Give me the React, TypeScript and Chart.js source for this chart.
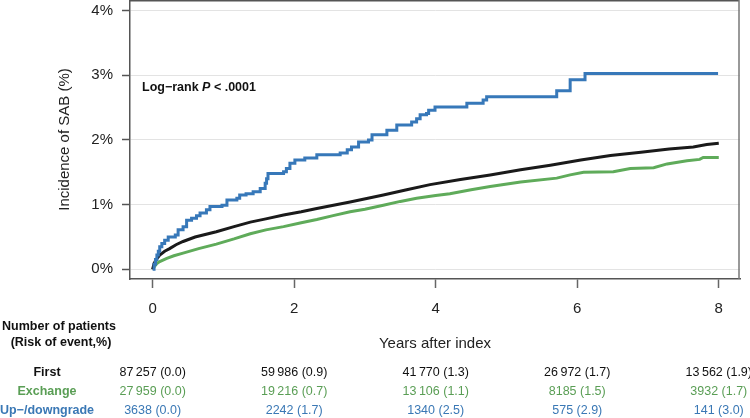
import React, { useEffect, useRef } from 'react';
import { Chart, registerables } from 'chart.js';

Chart.register(...registerables);

// ---- data ----
const xTicks = [0, 2, 4, 6, 8];
const yTicks = [0, 1, 2, 3, 4];
const timePoints = [0, 2, 4, 6, 8];

const firstT = [0, 0.02, 0.05, 0.1, 0.17, 0.24, 0.33, 0.43, 0.6, 0.9, 1.15, 1.38, 1.6, 1.85, 2.1, 2.32, 2.79, 3.26, 3.59, 3.92, 4.35, 4.77, 5.2, 5.62, 6.05, 6.47, 6.9, 7.3, 7.64, 7.83, 8.0];
const firstV = [0, 0.09, 0.15, 0.22, 0.28, 0.32, 0.38, 0.43, 0.5, 0.58, 0.66, 0.73, 0.78, 0.84, 0.89, 0.94, 1.04, 1.15, 1.23, 1.31, 1.39, 1.46, 1.54, 1.61, 1.69, 1.76, 1.81, 1.86, 1.89, 1.93, 1.95];

const exchT = [0, 0.03, 0.06, 0.1, 0.2, 0.3, 0.43, 0.65, 0.9, 1.15, 1.38, 1.6, 1.85, 2.1, 2.32, 2.55, 2.79, 3.0, 3.26, 3.5, 3.73, 4.0, 4.2, 4.5, 4.77, 5.2, 5.71, 5.9, 6.09, 6.51, 6.75, 7.08, 7.27, 7.55, 7.73, 7.78, 8.0];
const exchV = [0, 0.05, 0.09, 0.12, 0.17, 0.21, 0.25, 0.32, 0.39, 0.47, 0.55, 0.61, 0.66, 0.72, 0.77, 0.83, 0.89, 0.93, 0.99, 1.05, 1.1, 1.14, 1.17, 1.23, 1.28, 1.35, 1.41, 1.46, 1.5, 1.51, 1.56, 1.57, 1.63, 1.68, 1.7, 1.73, 1.73];

const updownT = [0, 0.02, 0.04, 0.06, 0.08, 0.1, 0.13, 0.17, 0.22, 0.32, 0.36, 0.43, 0.48, 0.55, 0.62, 0.67, 0.76, 0.81, 0.98, 1.05, 1.19, 1.23, 1.32, 1.42, 1.52, 1.59, 1.61, 1.63, 1.85, 1.89, 1.94, 2.01, 2.15, 2.32, 2.65, 2.75, 2.81, 2.91, 3.05, 3.1, 3.31, 3.45, 3.66, 3.73, 3.78, 3.87, 3.9, 3.99, 4.44, 4.67, 4.72, 5.71, 5.9, 6.11, 7.99];
const updownV = [0, 0.08, 0.15, 0.22, 0.28, 0.35, 0.4, 0.45, 0.5, 0.53, 0.61, 0.66, 0.76, 0.79, 0.83, 0.87, 0.92, 0.97, 0.99, 1.07, 1.1, 1.15, 1.17, 1.2, 1.25, 1.33, 1.4, 1.48, 1.51, 1.56, 1.64, 1.69, 1.72, 1.77, 1.8, 1.85, 1.89, 1.97, 2.0, 2.08, 2.15, 2.23, 2.28, 2.33, 2.39, 2.41, 2.46, 2.51, 2.57, 2.62, 2.67, 2.76, 2.93, 3.03, 3.03];

const firstN = [87257, 59986, 41770, 26972, 13562];
const firstRisk = [0.0, 0.9, 1.3, 1.7, 1.9];
const exchN = [27959, 19216, 13106, 8185, 3932];
const exchRisk = [0.0, 0.7, 1.1, 1.5, 1.7];
const updownN = [3638, 2242, 1340, 575, 141];
const updownRisk = [0.0, 1.7, 2.5, 2.9, 3.0];

const groupNames = ['First', 'Exchange', 'Up\u2212/downgrade'];

// ---- styles ----
const FONT = "'Liberation Sans', Arial, Helvetica, sans-serif";
const BLACK = '#1a1a1a';
const GREEN = '#5fab5a';
const BLUE = '#3778b9';
const GREEN_TXT = '#5a9e55';
const BLUE_TXT = '#3a78b5';
const AXIS = '#555555';

const pts = (t: number[], v: number[]) => t.map((x, i) => ({ x, y: v[i] }));

const fmtN = (n: number) => {
  if (n >= 10000) {
    const s = String(n);
    return s.slice(0, s.length - 3) + '\u2009' + s.slice(s.length - 3);
  }
  return String(n);
};

const overlayPlugin = {
  id: 'overlay',
  afterDraw(chart: any) {
    const ctx = chart.ctx;
    const xs = chart.scales.x;
    const ca = chart.chartArea;
    ctx.save();
    // frame: top and right sides
    ctx.strokeStyle = AXIS;
    ctx.lineWidth = 1.5;
    ctx.beginPath();
    ctx.moveTo(ca.left, ca.top + 0.75);
    ctx.lineTo(ca.right - 1, ca.top + 0.75);
    ctx.stroke();
    ctx.strokeStyle = '#777777';
    ctx.beginPath();
    ctx.moveTo(ca.right - 1, ca.top);
    ctx.lineTo(ca.right - 1, ca.bottom);
    ctx.stroke();

    // annotation
    ctx.textBaseline = 'middle';
    ctx.textAlign = 'left';
    ctx.fillStyle = '#111';
    let ax = ca.left + 12;
    const ay = 88;
    const parts: [string, string][] = [
      ['Log\u2212rank ', `bold 12.5px ${FONT}`],
      ['P', `italic bold 12.5px ${FONT}`],
      [' < .0001', `bold 12.5px ${FONT}`],
    ];
    for (const [txt, f] of parts) {
      ctx.font = f;
      ctx.fillText(txt, ax, ay);
      ax += ctx.measureText(txt).width;
    }

    // risk table
    ctx.textAlign = 'center';
    ctx.font = `bold 12.5px ${FONT}`;
    ctx.fillStyle = '#111';
    ctx.fillText('Number of patients', 59, 327);
    ctx.fillText('(Risk of event,%)', 61, 343);

    const rows = [
      { n: firstN, r: firstRisk, c: '#111', y: 373 },
      { n: exchN, r: exchRisk, c: GREEN_TXT, y: 392 },
      { n: updownN, r: updownRisk, c: BLUE_TXT, y: 411 },
    ];
    rows.forEach((row, ri) => {
      ctx.font = `bold 12.5px ${FONT}`;
      ctx.fillStyle = row.c;
      ctx.fillText(groupNames[ri], 47, row.y);
      ctx.font = `12.5px ${FONT}`;
      timePoints.forEach((t, i) => {
        const px = xs.getPixelForValue(t);
        ctx.fillText(`${fmtN(row.n[i])} (${row.r[i].toFixed(1)})`, px, row.y);
      });
    });
    ctx.restore();
  },
};

export default function App() {
  const ref = useRef<HTMLCanvasElement | null>(null);

  useEffect(() => {
    document.body.style.margin = '0';
    if (!ref.current) return;
    const chart = new Chart(ref.current, {
      type: 'line',
      data: {
        datasets: [
          {
            label: 'Up\u2212/downgrade',
            data: pts(updownT, updownV),
            borderColor: BLUE,
            borderWidth: 3,
            pointRadius: 0,
            stepped: true,
            fill: false,
          },
          {
            label: 'First',
            data: pts(firstT, firstV),
            borderColor: BLACK,
            borderWidth: 3,
            pointRadius: 0,
            tension: 0,
            fill: false,
          },
          {
            label: 'Exchange',
            data: pts(exchT, exchV),
            borderColor: GREEN,
            borderWidth: 3,
            pointRadius: 0,
            tension: 0,
            fill: false,
          },
        ],
      },
      options: {
        animation: false,
        responsive: false,
        devicePixelRatio: 1,
        layout: { padding: { left: 0, right: 10, top: 0, bottom: 0 } },
        plugins: {
          legend: { display: false },
          tooltip: { enabled: false },
        },
        scales: {
          x: {
            type: 'linear',
            min: -0.32,
            max: 8.3,
            afterBuildTicks: (s: any) => {
              s.ticks = xTicks.map((v) => ({ value: v }));
            },
            afterFit: (s: any) => {
              s.height = 139;
              s.paddingLeft = 0;
              s.paddingRight = 0;
            },
            ticks: {
              color: '#222',
              font: { family: FONT, size: 15 },
              padding: 12,
              maxRotation: 0,
              callback: (v: any) => String(v),
            },
            grid: {
              drawOnChartArea: false,
              drawTicks: true,
              tickLength: 9,
              tickColor: '#666',
              tickWidth: 1.5,
            },
            border: { display: true, color: AXIS, width: 1.5 },
            title: {
              display: true,
              text: 'Years after index',
              color: '#222',
              font: { family: FONT, size: 15 },
              padding: { top: 0, bottom: 65 },
            },
          },
          y: {
            type: 'linear',
            min: -0.15,
            max: 4.165,
            afterBuildTicks: (s: any) => {
              s.ticks = yTicks.map((v) => ({ value: v }));
            },
            afterFit: (s: any) => {
              s.width = 130;
              s.paddingTop = 0;
              s.paddingBottom = 0;
            },
            ticks: {
              color: '#222',
              font: { family: FONT, size: 15 },
              padding: 9,
              callback: (v: any) => `${v}%`,
            },
            grid: {
              color: '#e3e3e3',
              lineWidth: 1,
              drawTicks: true,
              tickLength: 8,
              tickColor: '#555',
              tickWidth: 1.5,
            },
            border: { display: true, color: AXIS, width: 1.5 },
            title: {
              display: true,
              text: 'Incidence of SAB (%)',
              color: '#222',
              font: { family: FONT, size: 15 },
              padding: { top: 56, bottom: 0 },
            },
          },
        },
      },
      plugins: [overlayPlugin],
    });
    return () => chart.destroy();
  }, []);

  return (
    <div style={{ position: 'fixed', left: 0, top: 0, width: 750, height: 418, background: '#fff' }}>
      <canvas ref={ref} width={750} height={418} style={{ width: 750, height: 418, display: 'block' }} />
    </div>
  );
}
